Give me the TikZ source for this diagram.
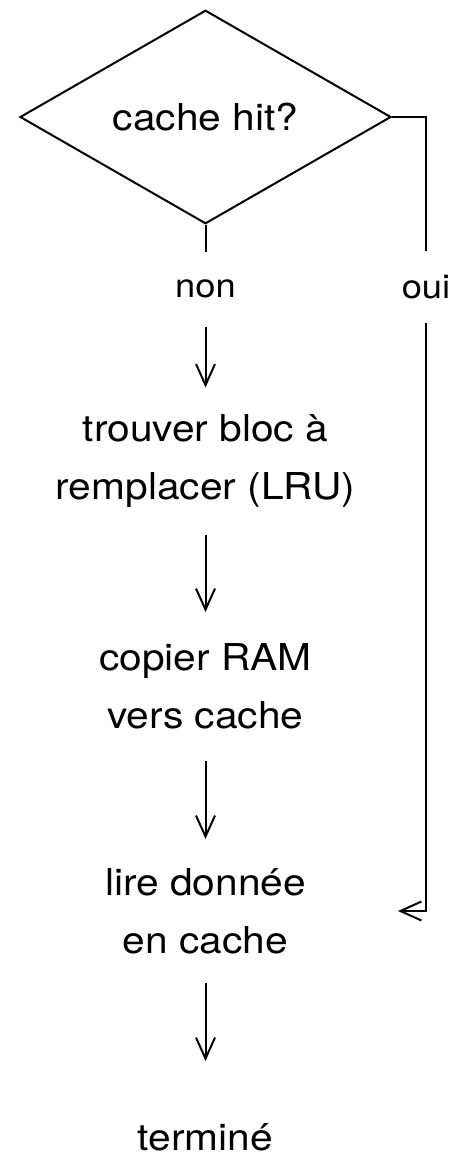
\documentclass[tikz,border=0pt]{standalone}
\usepackage{fontspec}
\setmainfont{TeX Gyre Heros}[FakeStretch=1.1]
\usetikzlibrary{shapes.geometric,arrows.meta}
\begin{document}
\begin{tikzpicture}[x=1pt,y=-1pt,
  line width=2pt,
  conn/.style={draw=black,line width=2pt},
  arr/.style={conn,-{Straight Barb[length=21pt,width=19pt,line width=2pt]}},
  stepbox/.style={inner sep=0pt,align=center,minimum width=383pt,font=\fontsize{37}{58}\selectfont},
  lbl/.style={inner sep=0pt,font=\fontsize{33}{36}\selectfont}]
\useasboundingbox (0,0) rectangle (449,1156);
\node[draw,shape=diamond,line width=2pt,inner sep=0pt,minimum width=371pt,minimum height=210pt,font=\fontsize{37}{40}\selectfont] (d) at (205.5,117) {cache hit?};
\node[lbl,minimum height=73pt] (non) at (205.5,289) {non};
\node[lbl,minimum height=70pt] (oui) at (426,287) {oui};
\node[stepbox,minimum height=145pt] (t1) at (205.5,461) {trouver bloc à\\remplacer (LRU)};
\node[stepbox,minimum height=147pt] (t2) at (205.5,686.5) {copier RAM\\vers cache};
\node[stepbox,minimum height=142pt] (t3) at (205.5,911) {lire donnée\\en cache};
\node[stepbox,minimum height=150pt] (t4) at (205.5,1137) {terminé};
\draw[conn] (d.south) -- (non.north);
\draw[arr] (non.south) -- (t1.north);
\draw[arr] (t1.south) -- (t2.north);
\draw[arr] (t2.south) -- (t3.north);
\draw[arr] (t3.south) -- (t4.north);
\draw[conn] (d.east) -| (oui.north);
\draw[arr] (oui.south) |- (t3.east);
\end{tikzpicture}
\end{document}
